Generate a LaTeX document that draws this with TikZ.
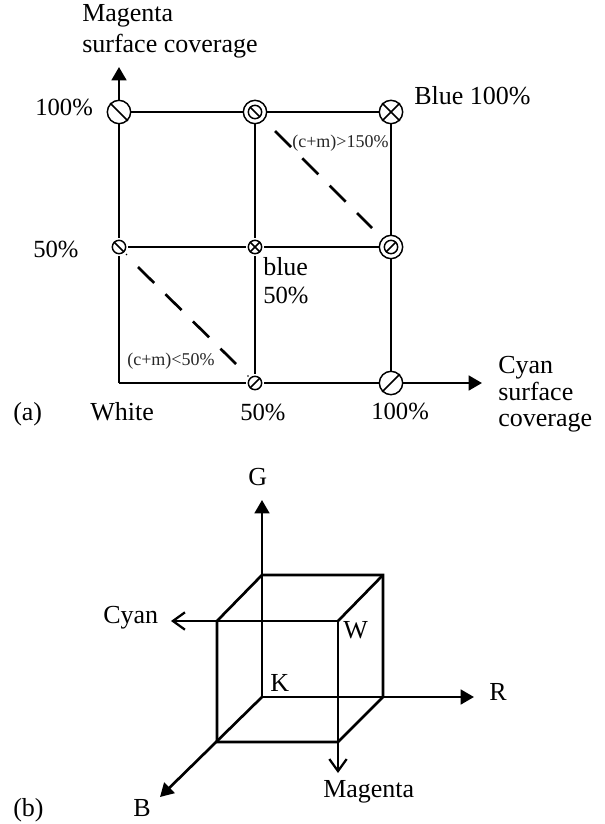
\documentclass[tikz,border=0pt]{standalone}
\usepackage{fontspec}
\setmainfont{Liberation Serif}
\usetikzlibrary{arrows.meta}
\tikzset{
  px/.style={x=0.75pt,y=-0.75pt},
  axisline/.style={line width=2pt},
  solidhead/.style={-{Triangle[length=10pt,width=11pt]}},
  openhead/.style={-{Straight Barb[length=9pt,width=13pt,line width=1.7pt]}},
  bigc/.style={circle,draw,fill=white,line width=1.1pt,inner sep=0pt,minimum size=17.5pt},
  midc/.style={circle,draw,fill=white,line width=1.1pt,inner sep=0pt,minimum size=10pt},
  smallc/.style={circle,draw,fill=white,line width=1.1pt,inner sep=0pt,minimum size=10pt},
  halo/.style={circle,fill=white,inner sep=0pt,minimum size=13.5pt},
  mark slash/.style={line width=1.1pt},
  lab/.style={inner sep=0pt,anchor=base west,align=left,font=\fontsize{19.5}{20}\selectfont,text=black},
  pct/.style={lab,font=\fontsize{18.5}{20}\selectfont},
  tiny lab/.style={inner sep=0pt,anchor=base west,font=\fontsize{13.5}{14}\selectfont,text=black!85},
  dashdiag/.style={line width=2pt,dash pattern=on 17pt off 12pt},
}
\begin{document}
\begin{tikzpicture}[px]
\useasboundingbox (0,0) rectangle (605,824);
\coordinate (o) at (119,383);
\coordinate (yend) at (119,67);
\coordinate (xend) at (482,383);
\draw[axisline,solidhead] (o) -- (yend);
\draw[axisline,solidhead] (o) -- (xend);
\coordinate (a1c) at (119,112);
\coordinate (a2c) at (255,112);
\coordinate (a3c) at (391,112);
\coordinate (b1c) at (119,247);
\coordinate (b2c) at (255,247);
\coordinate (b3c) at (391,247);
\coordinate (c2c) at (255,383);
\coordinate (c3c) at (391,383);
\draw[axisline] (a1c) -- (a3c);
\draw[axisline] (b1c) -- (b3c);
\draw[axisline] (a2c) -- (c2c);
\draw[axisline] (a3c) -- (c3c);
\node[halo] (h1) at (b1c) {};
\node[halo] (h2) at (b2c) {};
\node[halo] (h3) at (c2c) {};
\node[bigc] (a1) at (a1c) {};
\node[bigc] (a2) at (a2c) {};
\node[bigc] (a3) at (a3c) {};
\node[smallc] (b1) at (b1c) {};
\node[smallc] (b2) at (b2c) {};
\node[bigc] (b3) at (b3c) {};
\node[smallc] (c2) at (c2c) {};
\node[bigc] (c3) at (c3c) {};
\draw[mark slash] (a1.north west) -- (a1.south east);
\node[midc] (a2i) at (a2) {};
\draw[mark slash] (a2i.north west) -- (a2i.south east);
\draw[mark slash] (a3.north west) -- (a3.south east);
\draw[mark slash] (a3.north east) -- (a3.south west);
\draw[mark slash] (b1.north west) -- (b1.south east);
\draw[mark slash] (b2.north west) -- (b2.south east);
\draw[mark slash] (b2.north east) -- (b2.south west);
\node[midc] (b3i) at (b3) {};
\draw[mark slash] (b3i.north east) -- (b3i.south west);
\draw[mark slash] (c2.north east) -- (c2.south west);
\draw[mark slash] (c3.north east) -- (c3.south west);
\fill (126.5,254.5) circle (0.6pt);
\fill (248,376) circle (0.6pt);
% dashed diagonals
\coordinate (d1a) at (275,131);
\coordinate (d1b) at (372,228);
\draw[dashdiag] (d1a) -- (d1b);
\coordinate (d2a) at (138,267);
\coordinate (d2b) at (236,364);
\draw[dashdiag] (d2a) -- (d2b);
% labels (a)
\node[lab] (ma) at (82,22) {Magenta};
\node[lab] (sc) at (82,53) {surface coverage};
\node[pct] (p100) at (35,115) {100\%};
\node[pct] (p50) at (33,257) {50\%};
\node[lab] (blue100) at (414,104) {Blue 100\%};
\node[lab] (bl) at (263,275) {blue};
\node[pct] (b50) at (263,303) {50\%};
\node[tiny lab] (gt) at (292,147) {(c+m)>150\%};
\node[tiny lab] (lt) at (127,365) {(c+m)<50\%};
\node[lab] (cy1) at (498,373) {Cyan};
\node[lab] (cy2) at (498,400) {surface};
\node[lab] (cy3) at (498,426) {coverage};
\node[lab] (la) at (13,420) {(a)};
\node[lab] (wh) at (90,420) {White};
\node[pct] (x50) at (240,420) {50\%};
\node[pct] (x100) at (371,419) {100\%};
% cube
\coordinate (K) at (262,697);
\coordinate (bt) at (262,575);
\coordinate (btr) at (383,575);
\coordinate (br) at (383,697);
\coordinate (ftl) at (217,621);
\coordinate (W) at (338,621);
\coordinate (fbl) at (217,742);
\coordinate (fbr) at (338,742);
\coordinate (Gend) at (262,500);
\coordinate (Rend) at (474,697);
\coordinate (Bend) at (160,797);
\coordinate (Cend) at (171,621);
\coordinate (Mend) at (338,773);
\draw[axisline,solidhead] (K) -- (Gend);
\draw[axisline,solidhead] (K) -- (Rend);
\draw[axisline,solidhead] (K) -- (Bend);
\draw[axisline,openhead] (W) -- (Cend);
\draw[axisline,openhead] (W) -- (Mend);
\draw[axisline,line join=miter] (ftl) -- (bt) -- (btr) -- (br) -- (fbr) -- (fbl) -- (ftl);
\draw[axisline] (btr) -- (W);
\node[lab] (G) at (248,485) {G};
\node[lab] (Cy) at (103,623) {Cyan};
\node[lab] (Wl) at (343,638) {W};
\node[lab] (Kl) at (270,691) {K};
\node[lab] (Rl) at (489,700) {R};
\node[lab] (Ml) at (323,797) {Magenta};
\node[lab] (lb) at (13,816) {(b)};
\node[lab] (Bl) at (133,816) {B};
\end{tikzpicture}
\end{document}
